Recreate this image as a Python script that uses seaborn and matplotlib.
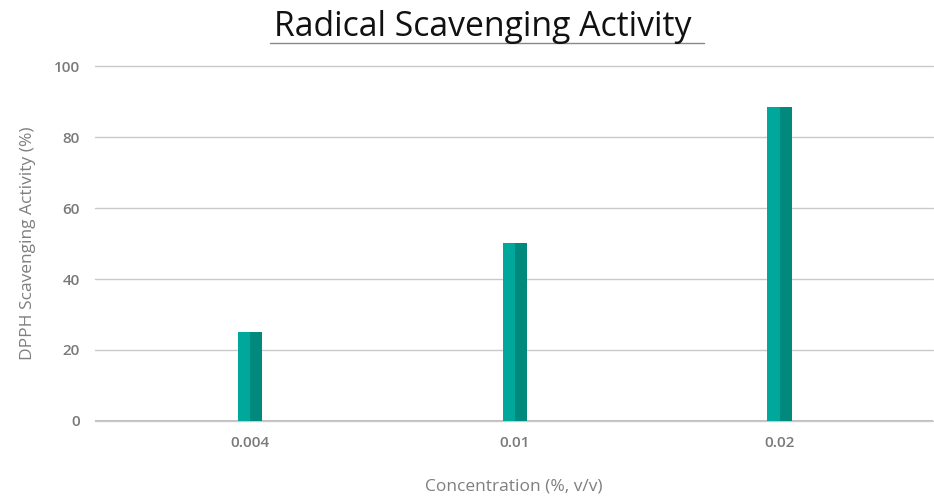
import matplotlib
matplotlib.use("Agg")
import matplotlib.pyplot as plt
import seaborn as sns
import pandas as pd
from matplotlib.lines import Line2D

concentrations = ["0.004", "0.01", "0.02"]
activity = [25.1, 50.1, 88.6]
halves = ["left", "right"]

df = pd.DataFrame({
    "Concentration": [c for c in concentrations for _ in halves],
    "Activity": [a for a in activity for _ in halves],
    "half": halves * len(concentrations),
})

sns.set_theme(style="white")
plt.rcParams["font.family"] = ["Open Sans", "DejaVu Sans"]

fig = plt.figure(figsize=(9.34, 4.97), dpi=100)
ax = fig.add_axes([0.102, 0.153, 0.897, 0.714])

sns.barplot(data=df, x="Concentration", y="Activity", hue="half",
            palette=["#00a89c", "#00897c"], width=0.092, dodge=True,
            gap=0, saturation=1, linewidth=0, legend=False, ax=ax, zorder=3)

ax.set_ylim(0, 100)
ax.set_xlim(-0.585, 2.58)
ax.set_yticks([0, 20, 40, 60, 80, 100])
ax.yaxis.grid(True, color="#c9c9c9", linewidth=1)
for gl in ax.get_ygridlines():
    gl.set_clip_on(False)
ax.set_axisbelow(True)
for s in ax.spines.values():
    s.set_visible(False)
ax.axhline(0, color="#b5b5b5", linewidth=1.2, zorder=2)

ax.tick_params(axis="y", length=7, width=1, color="#c9c9c9", pad=4,
               labelsize=11, labelcolor="#7a7a7a")
ax.tick_params(axis="x", length=0, pad=11, labelsize=11, labelcolor="#7a7a7a")
for lbl in ax.get_xticklabels() + ax.get_yticklabels():
    lbl.set_fontweight("semibold")

ax.set_xlabel("Concentration (%, v/v)", fontsize=12.5, color="#7f7f7f", labelpad=20)
ax.set_ylabel("DPPH Scavenging Activity (%)", fontsize=12.5, color="#7f7f7f", labelpad=13)

fig.text(0.5165, 0.945, "Radical Scavenging Activity", ha="center", va="center",
         fontsize=24.3, color="#111111")
fig.add_artist(Line2D([0.289, 0.754], [0.914, 0.914], color="#888888", linewidth=1))

fig.savefig("out.png", dpi=100)
